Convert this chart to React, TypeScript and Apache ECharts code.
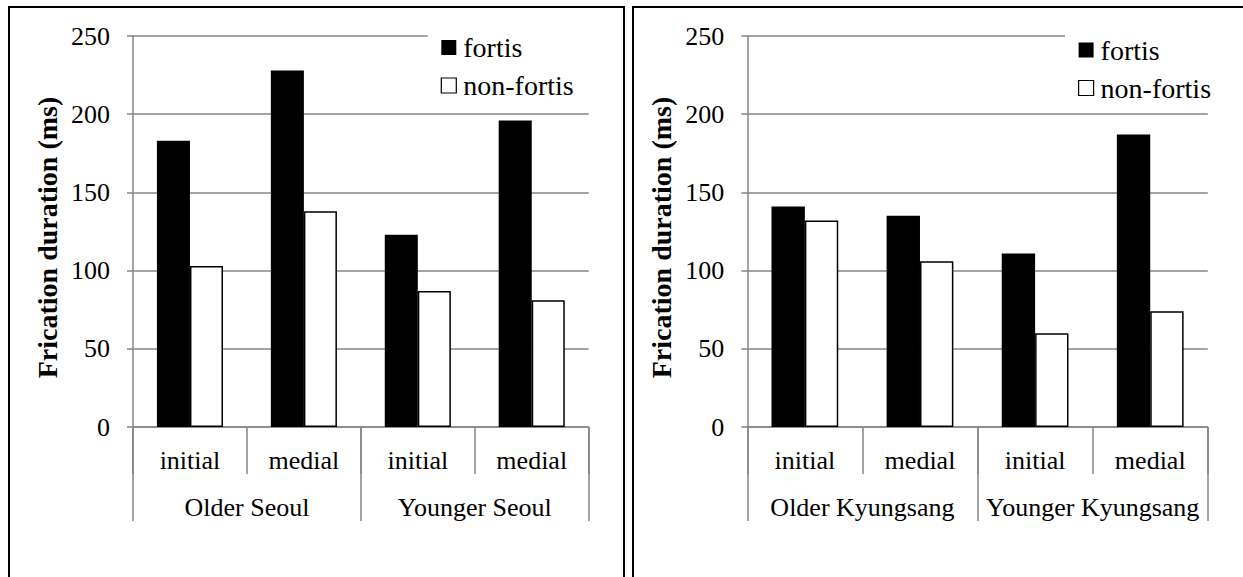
import React, { useEffect, useRef } from "react";
import * as echarts from "echarts";

const CATEGORIES = ["initial", "medial", "initial", "medial"];
const GROUPS_SEOUL = ["Older Seoul", "Younger Seoul"];
const GROUPS_KYUNGSANG = ["Older Kyungsang", "Younger Kyungsang"];
const SERIES_NAMES = ["fortis", "non-fortis"];
const SEOUL_FORTIS = [183, 228, 123, 196];
const SEOUL_NONFORTIS = [103, 138, 87, 81];
const KYUNGSANG_FORTIS = [141, 135, 111, 187];
const KYUNGSANG_NONFORTIS = [132, 106, 60, 74];
const Y_MIN = 0;
const Y_MAX = 250;
const Y_INTERVAL = 50;
const Y_NAME = "Frication duration (ms)";

const FONT = "Liberation Serif";
const GRID_COLOR = "#868686";

function App() {
  const ref = useRef<HTMLDivElement>(null);
  useEffect(() => {
    if (!ref.current) return;
    const chart = echarts.init(ref.current, null, { renderer: "svg" });
    const grids = [
      { left: 133, top: 36, width: 455.7, height: 391 },
      { left: 747.3, top: 36, width: 460.5, height: 391 },
    ];
    const groups = [GROUPS_SEOUL, GROUPS_KYUNGSANG];
    const xAxes: any[] = [];
    const yAxes: any[] = [];
    grids.forEach((_, gi) => {
      xAxes.push({
        type: "category",
        gridIndex: gi,
        position: "bottom",
        data: CATEGORIES,
        axisLine: { show: true, lineStyle: { color: GRID_COLOR, width: 1.5 } },
        axisTick: { show: true, interval: 0, length: 47, lineStyle: { color: GRID_COLOR, width: 1.5 } },
        axisLabel: { interval: 0, margin: 20, color: "#000", fontSize: 26, fontFamily: FONT },
      });
      xAxes.push({
        type: "category",
        gridIndex: gi,
        position: "bottom",
        data: groups[gi],
        axisLine: { show: false },
        axisTick: { show: true, interval: 0, length: 94, lineStyle: { color: GRID_COLOR, width: 1.5 } },
        axisLabel: { interval: 0, margin: 67, color: "#000", fontSize: 26, fontFamily: FONT },
      });
      yAxes.push({
        type: "value",
        gridIndex: gi,
        min: Y_MIN,
        max: Y_MAX,
        interval: Y_INTERVAL,
        name: Y_NAME,
        nameLocation: "middle",
        nameGap: 72,
        nameTextStyle: { fontSize: 28, fontWeight: "bold", fontFamily: FONT, color: "#000", padding: [0, 12, 0, 0] },
        axisLine: { show: true, lineStyle: { color: GRID_COLOR, width: 1.5 } },
        axisTick: { show: true, length: 6, lineStyle: { color: GRID_COLOR, width: 1.5 } },
        axisLabel: { margin: 23, color: "#000", fontSize: 26, fontFamily: FONT },
        splitLine: { show: true, lineStyle: { color: GRID_COLOR, width: 1.5 } },
      });
    });
    const mkBar = (name: string, data: number[], gi: number, white: boolean) => ({
      type: "bar",
      name,
      data,
      xAxisIndex: gi * 2,
      yAxisIndex: gi,
      barGap: "0%",
      barCategoryGap: "42%",
      itemStyle: white
        ? { color: "#fff", borderColor: "#000", borderWidth: 1.5 }
        : { color: "#000" },
    });
    const mkLegend = (left: number, top: number) => ({
      orient: "vertical",
      left,
      top,
      padding: [2, 16, 2, 13],
      backgroundColor: "#fff",
      icon: "rect",
      itemWidth: 15,
      itemHeight: 15,
      itemGap: 10,
      data: SERIES_NAMES,
      textStyle: { fontSize: 28, fontFamily: FONT, color: "#000", padding: [0, 0, 0, 2] },
      itemStyle: { borderWidth: 1.2 },
    });
    chart.setOption({
      animation: false,
      backgroundColor: "#fff",
      textStyle: { fontFamily: FONT },
      grid: grids,
      xAxis: xAxes,
      yAxis: yAxes,
      legend: [mkLegend(427.7, 31.5), mkLegend(1065, 34)],
      series: [
        mkBar(SERIES_NAMES[0], SEOUL_FORTIS, 0, false),
        mkBar(SERIES_NAMES[1], SEOUL_NONFORTIS, 0, true),
        mkBar(SERIES_NAMES[0], KYUNGSANG_FORTIS, 1, false),
        mkBar(SERIES_NAMES[1], KYUNGSANG_NONFORTIS, 1, true),
      ],
      graphic: [
        {
          type: "rect",
          silent: true,
          z: 100,
          shape: { x: 9, y: 7, width: 615, height: 700 },
          style: { fill: "none", stroke: "#000", lineWidth: 2 },
        },
        {
          type: "rect",
          silent: true,
          z: 100,
          shape: { x: 633, y: 7, width: 700, height: 700 },
          style: { fill: "none", stroke: "#000", lineWidth: 2 },
        },
      ],
    });
    return () => chart.dispose();
  }, []);
  return (
    <div
      ref={ref}
      style={{ position: "absolute", left: 0, top: 0, width: 1243, height: 577 }}
    />
  );
}

export default App;
